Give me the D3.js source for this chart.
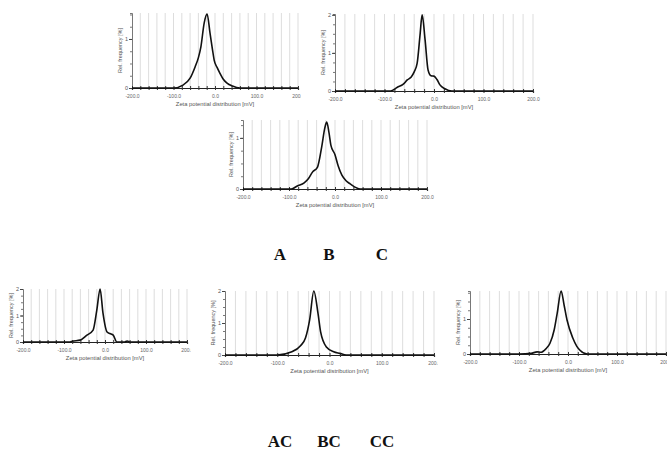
<!DOCTYPE html>
<html><head><meta charset="utf-8">
<script src="https://cdn.jsdelivr.net/npm/d3@7"></script>
<style>html,body{margin:0;padding:0;background:#fff;}svg{display:block;}</style>
</head><body>
<svg id="chart" width="667" height="451"></svg>
<script>
// ---- data (mV, relative frequency %) ----
const mvA   = [-200,-100,-77,-60,-48,-40,-34,-26,-19,-12,-6,-2,5,12,20,29,42,60,200];
const freqA = [0,0,0.06,0.2,0.43,0.62,0.84,1.33,1.51,1.12,0.78,0.57,0.42,0.3,0.18,0.1,0.04,0,0];
const mvB   = [-200,-88,-74,-62,-54,-46,-40,-34,-28,-24,-18,-12,-6,0,6,12,22,36,200];
const freqB = [0,0,0.1,0.18,0.29,0.37,0.5,0.73,1.5,2.0,1.34,0.55,0.4,0.39,0.3,0.16,0.06,0,0];
const mvC   = [-200,-95,-82,-67,-58,-49,-38,-29,-22,-18,-13,-9,0,7,15,24,33,55,200];
const freqC = [0,0,0.06,0.12,0.2,0.33,0.43,0.82,1.2,1.31,1.1,0.86,0.67,0.45,0.27,0.16,0.1,0,0];
const mvAC   = [-200,-85,-80,-61,-45,-29,-20,-12,-5,5,12,20,29,48,54,60,200];
const freqAC = [0,0,0.03,0.07,0.25,0.45,1.2,2.0,1.1,0.38,0.32,0.26,0,0,0.04,0,0];
const mvBC   = [-200,-100,-72,-55,-46,-38,-30,-22,-17,-6,8,20,32,200];
const freqBC = [0,0,0.1,0.3,0.53,1.1,2.0,1.3,0.72,0.25,0.1,0.05,0,0];
const mvCC   = [-200,-100,-75,-63,-55,-45,-37,-28,-22,-14,-8,-2,10,18,25,39,200];
const freqCC = [0,0,0.02,0.06,0.05,0.15,0.3,0.7,1.17,1.8,1.4,0.97,0.45,0.22,0.1,0,0];

const xTickValues = [-200,-100,0,100,200];
const xTickLabels = ["-200.0","-100.0","0.0","100.0","200.0"];
const xTitle = "Zeta potential distribution [mV]";
const yTitle = "Rel. frequency [%]";
const groupLabels1 = ["A","B","C"];
const groupLabels2 = ["AC","BC","CC"];

// ---- layout ----
const panels = [
  {id:"A",  mv:mvA,  f:freqA,  x0:132, x1:298, base:88,  top:13,  yMax:1.53, yTicks:[0,1],   clipR:301},
  {id:"B",  mv:mvB,  f:freqB,  x0:335, x1:533, base:91,  top:14,  yMax:2.02, yTicks:[0,1,2], clipR:545},
  {id:"C",  mv:mvC,  f:freqC,  x0:243, x1:427, base:189, top:120, yMax:1.35, yTicks:[0,1],   clipR:440},
  {id:"AC", mv:mvAC, f:freqAC, x0:23,  x1:187, base:342, top:289, yMax:2.0,  yTicks:[0,1,2], clipR:191},
  {id:"BC", mv:mvBC, f:freqBC, x0:225, x1:434, base:355, top:291, yMax:2.0,  yTicks:[0,1,2], clipR:438},
  {id:"CC", mv:mvCC, f:freqCC, x0:470, x1:666, base:354, top:291, yMax:1.8,  yTicks:[0,1],   clipR:667}
];

const svg = d3.select("#chart");
const defs = svg.append("defs");

panels.forEach(p => {
  const x = d3.scaleLinear().domain([-200,200]).range([p.x0,p.x1]);
  const y = d3.scaleLinear().domain([0,p.yMax]).range([p.base,p.top]);
  defs.append("clipPath").attr("id","clip"+p.id)
    .append("rect").attr("x",p.x0-40).attr("y",p.top-8).attr("width",p.clipR-(p.x0-40)).attr("height",p.base-p.top+30);
  const g = svg.append("g").attr("clip-path","url(#clip"+p.id+")");

  // grid
  const grid = d3.range(-180,201,20);
  g.selectAll("line.grid").data(grid).enter().append("line")
    .attr("x1",d=>x(d)).attr("x2",d=>x(d)).attr("y1",p.top).attr("y2",p.base)
    .attr("stroke","#d4d4d4").attr("stroke-width",0.8);

  // y axis
  const yAxis = d3.axisLeft(y).tickValues(d3.range(0,p.yMax+0.001,0.25)).tickSize(2).tickFormat(()=> "");
  const ya = g.append("g").attr("transform",`translate(${p.x0},0)`).call(yAxis);
  ya.selectAll("path,line").attr("stroke","#555").attr("stroke-width",0.8);
  g.append("g").attr("transform",`translate(${p.x0},0)`)
    .call(d3.axisLeft(y).tickValues(p.yTicks).tickSize(3).tickFormat(d3.format("d")))
    .call(s=>{s.select(".domain").remove();
      s.selectAll("line").attr("stroke","#444");
      s.selectAll("text").attr("font-family","Liberation Sans, Arial, sans-serif").attr("font-size",5.5).attr("fill","#555").attr("x",-4);});

  // x axis
  const xa = g.append("g").attr("transform",`translate(0,${p.base})`)
    .call(d3.axisBottom(x).tickValues(d3.range(-200,201,20)).tickSize(2).tickFormat(()=> ""));
  xa.selectAll("path").attr("stroke","#222").attr("stroke-width",1.2);
  xa.selectAll("line").attr("stroke","#333").attr("y1",-2).attr("y2",2);
  const xl = g.append("g").attr("transform",`translate(0,${p.base})`)
    .call(d3.axisBottom(x).tickValues(xTickValues).tickSize(0).tickFormat((d,i)=>xTickLabels[i]));
  xl.select(".domain").remove();
  xl.selectAll("text").attr("font-family","Liberation Sans, Arial, sans-serif").attr("font-size",5).attr("fill","#666").attr("dy","0.71em").attr("y",6);

  // curve
  const line = d3.line().x(d=>x(d[0])).y(d=>y(d[1])).curve(d3.curveMonotoneX);
  const pts = p.mv.map((v,i)=>[v,p.f[i]]);
  g.append("path").datum(pts).attr("d",line).attr("fill","none")
    .attr("stroke","#111").attr("stroke-width",1.6).attr("stroke-linejoin","round");

  // titles
  svg.append("text").attr("x",(p.x0+p.x1)/2).attr("y",p.base+18)
    .attr("text-anchor","middle").attr("font-family","Liberation Sans, Arial, sans-serif")
    .attr("font-size",5.8).attr("fill","#555").text(xTitle);
  svg.append("text").attr("transform",`translate(${p.x0-10},${(p.top+p.base)/2}) rotate(-90)`)
    .attr("text-anchor","middle").attr("font-family","Liberation Sans, Arial, sans-serif")
    .attr("font-size",5.5).attr("fill","#555").text(yTitle);
});

// group labels
const lx = [280,329,382];
svg.selectAll("text.g1").data(groupLabels1).enter().append("text")
  .attr("x",(d,i)=>lx[i]).attr("y",260).attr("text-anchor","middle")
  .attr("font-family","Liberation Serif, DejaVu Serif, serif").attr("font-weight","bold")
  .attr("font-size",17).attr("fill","#111").text(d=>d);
svg.selectAll("text.g2").data(groupLabels2).enter().append("text")
  .attr("x",(d,i)=>lx[i]).attr("y",447).attr("text-anchor","middle")
  .attr("font-family","Liberation Serif, DejaVu Serif, serif").attr("font-weight","bold")
  .attr("font-size",17).attr("fill","#111").text(d=>d);
</script>
</body></html>
